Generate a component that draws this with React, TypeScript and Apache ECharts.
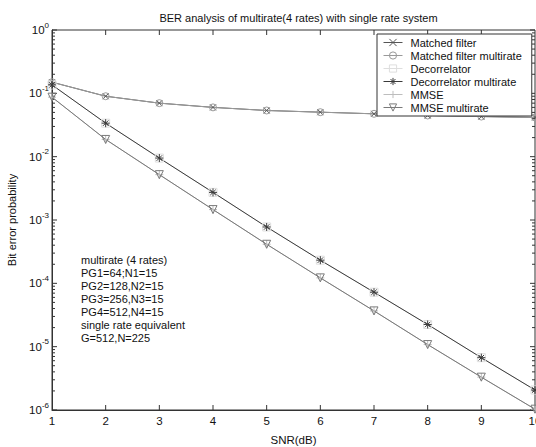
import React, { useEffect, useRef } from 'react';
import * as echarts from 'echarts';

const snr = [1, 2, 3, 4, 5, 6, 7, 8, 9, 10];
const matchedFilter = [0.15, 0.09, 0.07, 0.06, 0.0536, 0.0504, 0.0475, 0.0447, 0.043, 0.0416];
const matchedFilterMultirate = [0.15, 0.09, 0.07, 0.06, 0.0536, 0.0504, 0.0475, 0.0447, 0.043, 0.0416];
const decorrelator = [0.136, 0.0338, 0.0095, 0.00273, 0.000776, 0.000232, 0.0000724, 0.0000224, 0.0000067, 0.00000207];
const decorrelatorMultirate = [0.136, 0.0338, 0.0095, 0.00273, 0.000776, 0.000232, 0.0000724, 0.0000224, 0.0000067, 0.00000207];
const mmse = [0.087, 0.0187, 0.0052, 0.00146, 0.000414, 0.000122, 0.0000367, 0.0000108, 0.0000033, 0.00000103];
const mmseMultirate = [0.087, 0.0187, 0.0052, 0.00146, 0.000414, 0.000122, 0.0000367, 0.0000108, 0.0000033, 0.00000103];

const seriesNames = [
  'Matched filter',
  'Matched filter multirate',
  'Decorrelator',
  'Decorrelator multirate',
  'MMSE',
  'MMSE multirate',
];
const titleText = 'BER analysis of multirate(4 rates) with single rate system';
const xName = 'SNR(dB)';
const yName = 'Bit error probability';
const noteLines = [
  'multirate (4 rates)',
  'PG1=64;N1=15',
  'PG2=128,N2=15',
  'PG3=256,N3=15',
  'PG4=512,N4=15',
  'single rate equivalent',
  'G=512,N=225',
];
const yMinExp = -6;
const yMaxExp = 0;

const FONT = '"Liberation Sans", Arial, Helvetica, sans-serif';
const X_SYM = 'path://M0,0L10,10M10,0L0,10';
const CIRCLE_SYM = 'path://M10,5A5,5 0 1,1 0,5A5,5 0 1,1 10,5Z';
const SQUARE_SYM = 'path://M0,0L10,0L10,10L0,10Z';
const STAR_SYM = 'path://M5,0L5,10M0,5L10,5M1.6,1.6L8.4,8.4M8.4,1.6L1.6,8.4';
const PLUS_SYM = 'path://M5,0L5,10M0,5L10,5';
const TRI_DOWN = 'path://M0,0L10,0L5,8.66Z';

function mkSeries(name: string, values: number[], color: string, symbol: string, size: number, fill: string) {
  return {
    type: 'line',
    name,
    data: snr.map((x, i) => [x, values[i]]),
    symbol,
    symbolSize: size,
    showAllSymbol: true,
    clip: false,
    color,
    lineStyle: { color, width: 1, type: 'solid' },
    itemStyle: { color: fill, borderColor: color, borderWidth: 1, borderType: 'solid' },
    emphasis: { disabled: true },
  };
}

export default function App() {
  const ref = useRef<HTMLDivElement>(null);
  useEffect(() => {
    const chart = echarts.init(ref.current!, null, { renderer: 'svg' });

    const yTicks: number[][] = [];
    for (let e = yMinExp; e <= yMaxExp; e++) {
      yTicks.push([1, Math.pow(10, e), 5]);
      if (e < yMaxExp) {
        for (let m = 2; m <= 9; m++) yTicks.push([1, m * Math.pow(10, e), 3]);
      }
    }
    const xTicks: number[][] = snr.slice(1, -1).map((x) => [x, 1, 5]);
    const tickColor = '#333';

    const option: any = {
      animation: false,
      backgroundColor: '#fff',
      aria: { enabled: false, decal: { show: false } },
      textStyle: { fontFamily: FONT },
      title: {
        text: titleText,
        left: 293.5,
        textAlign: 'center',
        top: 7,
        textStyle: { fontSize: 11, fontWeight: 'normal', color: '#111', fontFamily: FONT },
      },
      grid: {
        left: 52,
        right: 1,
        top: 30,
        bottom: 37,
        containLabel: false,
        outerBoundsMode: 'none',
        show: true,
        borderColor: '#333',
        borderWidth: 1,
        backgroundColor: '#fff',
      },
      legend: {
        data: seriesNames,
        orient: 'vertical',
        left: 377,
        top: 34,
        padding: [2, 10, 2, 6],
        itemGap: 0,
        itemWidth: 19,
        itemHeight: 9,
        backgroundColor: '#fff',
        borderColor: '#333',
        borderWidth: 1,
        borderRadius: 0,
        selectedMode: false,
        lineStyle: { width: 1 },
        itemStyle: { borderWidth: 1 },
        textStyle: { fontSize: 11, lineHeight: 13, color: '#111', fontFamily: FONT, padding: [0, 0, 0, 3] },
      },
      xAxis: {
        type: 'value',
        min: 1,
        max: 10,
        interval: 1,
        name: xName,
        nameLocation: 'middle',
        nameGap: 24,
        nameTextStyle: { fontSize: 11.5, color: '#111', fontFamily: FONT },
        axisLine: { lineStyle: { color: '#333' } },
        axisTick: { show: false },
        splitLine: { show: false },
        axisLabel: { fontSize: 11.5, color: '#111', margin: 5, fontFamily: FONT, alignMaxLabel: 'center', alignMinLabel: 'center' },
      },
      yAxis: {
        type: 'log',
        logBase: 10,
        min: Math.pow(10, yMinExp),
        max: Math.pow(10, yMaxExp),
        splitNumber: 6,
        name: yName,
        nameLocation: 'middle',
        nameGap: 35,
        nameTextStyle: { fontSize: 11, color: '#111', fontFamily: FONT },
        axisLine: { lineStyle: { color: '#333' } },
        axisTick: { show: false },
        splitLine: { show: false },
        axisLabel: {
          margin: 3,
          formatter: (v: number) => {
            const e = Math.round(Math.log10(v));
            return `{a|10}{b|${e}}`;
          },
          rich: {
            a: { fontSize: 11.5, lineHeight: 12, color: '#111', fontFamily: FONT },
            b: { fontSize: 8, lineHeight: 8, padding: [0, 0, 10, 0], color: '#111', fontFamily: FONT },
          },
        },
      },
      graphic: [
        {
          type: 'text',
          left: 81,
          top: 254,
          silent: true,
          style: {
            text: noteLines.join('\n'),
            fontSize: 11,
            lineHeight: 12.9,
            fill: '#111',
            fontFamily: FONT,
          },
        },
      ],
      series: [
        {
          type: 'custom',
          name: 'yticks',
          silent: true,
          clip: false,
          data: yTicks,
          encode: { x: 0, y: 1 },
          renderItem: (params: any, api: any) => {
            const y = api.value(1);
            const len = api.value(2);
            const pl = api.coord([1, y]);
            const pr = api.coord([10, y]);
            return {
              type: 'group',
              children: [
                { type: 'line', shape: { x1: pl[0], y1: pl[1], x2: pl[0] + len, y2: pl[1] }, style: { stroke: tickColor, lineWidth: 1 } },
                { type: 'line', shape: { x1: pr[0], y1: pr[1], x2: pr[0] - len, y2: pr[1] }, style: { stroke: tickColor, lineWidth: 1 } },
              ],
            };
          },
        },
        {
          type: 'custom',
          name: 'xticks',
          silent: true,
          clip: false,
          data: xTicks,
          encode: { x: 0, y: 1 },
          renderItem: (params: any, api: any) => {
            const x = api.value(0);
            const len = api.value(2);
            const pt = api.coord([x, Math.pow(10, yMaxExp)]);
            const pb = api.coord([x, Math.pow(10, yMinExp)]);
            return {
              type: 'group',
              children: [
                { type: 'line', shape: { x1: pt[0], y1: pt[1], x2: pt[0], y2: pt[1] + len }, style: { stroke: tickColor, lineWidth: 1 } },
                { type: 'line', shape: { x1: pb[0], y1: pb[1], x2: pb[0], y2: pb[1] - len }, style: { stroke: tickColor, lineWidth: 1 } },
              ],
            };
          },
        },
        mkSeries(seriesNames[0], matchedFilter, '#555555', X_SYM, 6, 'rgba(0,0,0,0)'),
        mkSeries(seriesNames[1], matchedFilterMultirate, '#9a9a9a', CIRCLE_SYM, 7, 'rgba(0,0,0,0)'),
        mkSeries(seriesNames[2], decorrelator, '#dedede', SQUARE_SYM, 8, 'rgba(0,0,0,0)'),
        mkSeries(seriesNames[3], decorrelatorMultirate, '#3a3a3a', STAR_SYM, 8, 'rgba(0,0,0,0)'),
        mkSeries(seriesNames[4], mmse, '#bdbdbd', PLUS_SYM, 8, 'rgba(0,0,0,0)'),
        mkSeries(seriesNames[5], mmseMultirate, '#7a7a7a', TRI_DOWN, 8, 'rgba(0,0,0,0)'),
      ],
    };
    chart.setOption(option);
    return () => chart.dispose();
  }, []);
  return (
    <div
      ref={ref}
      style={{ position: 'fixed', left: 0, top: 0, width: 536, height: 447, background: '#fff' }}
    />
  );
}
